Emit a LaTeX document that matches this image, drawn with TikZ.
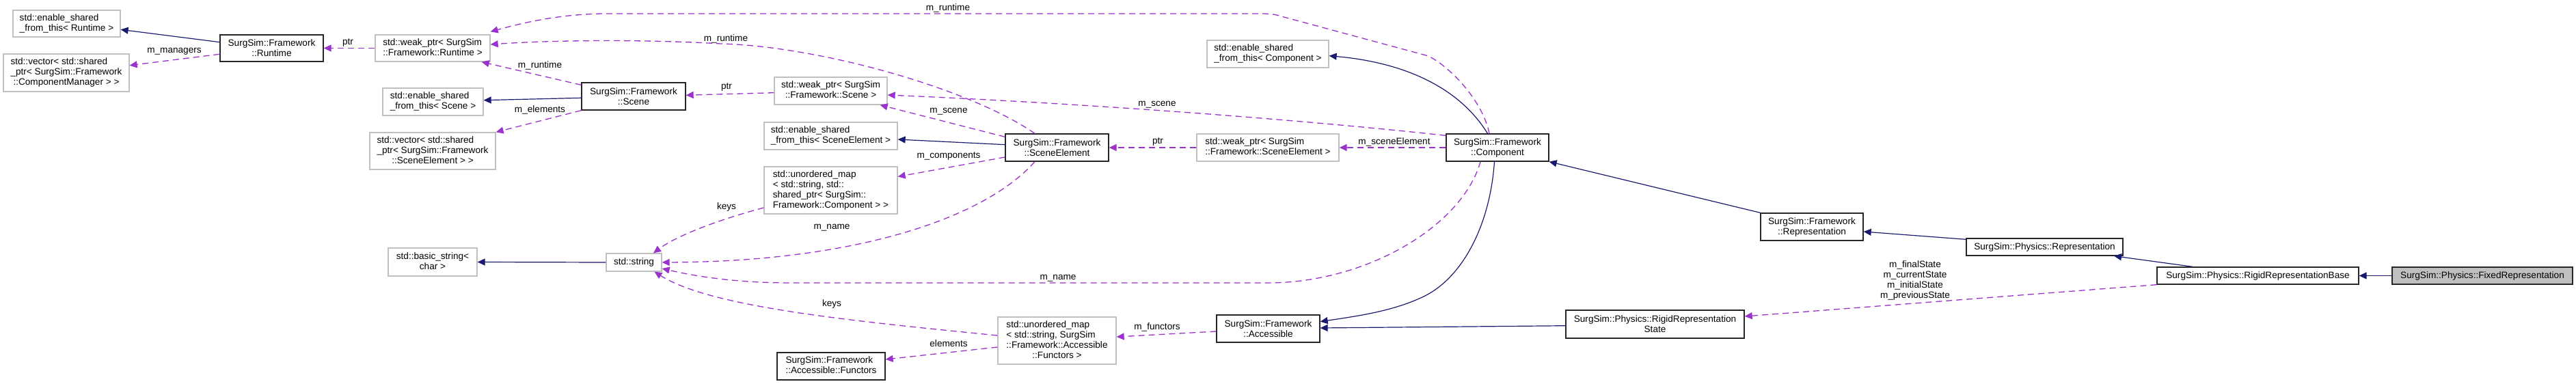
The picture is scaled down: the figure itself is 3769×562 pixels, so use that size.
\documentclass[tikz,border=0pt]{standalone}
\usepackage{fontspec}
\setmainfont{Liberation Sans}
\usetikzlibrary{arrows.meta}
\definecolor{navyc}{HTML}{191970}
\definecolor{orch}{HTML}{9A32CD}
\definecolor{gbord}{HTML}{BFBFBF}
\definecolor{fixfill}{HTML}{BFBFBF}
\newcommand\dxLast[1]{\multicolumn{1}{@{}c@{}}{#1}}
\begin{document}
\begin{tikzpicture}[x=1pt,y=-1pt,
  every node/.style={font=\fontsize{13.6}{15}\selectfont},
  box/.style={rectangle, draw, line width=1.3pt, inner sep=0pt, align=center},
  ext/.style={box, draw=gbord},
  cls/.style={box, draw=black!85},
  inh/.style={navyc, line width=1.2pt, -{Triangle[length=11pt,width=10pt]}},
  use/.style={orch, line width=1.3pt, dash pattern=on 9pt off 6pt, -{Triangle[length=11pt,width=10pt]}},
  lbl/.style={inner sep=0pt, align=center}]
\useasboundingbox (0,0) rectangle (3769,562);

% nodes
\node[ext, minimum width=157pt, minimum height=39pt] (ESR) at (97.5,34.5)
  {\begin{tabular}{@{}l@{}}std::enable\_shared\\\dxLast{\_from\_this< Runtime >}\end{tabular}};
\node[ext, minimum width=184pt, minimum height=55pt] (VCM) at (97,106.5)
  {\begin{tabular}{@{}l@{}}std::vector< std::shared\\\_ptr< SurgSim::Framework\\\dxLast{::ComponentManager > >}\end{tabular}};
\node[cls, minimum width=151pt, minimum height=39pt] (RT) at (397.5,70.5)
  {SurgSim::Framework\\::Runtime};
\node[ext, minimum width=168pt, minimum height=39pt] (WRT) at (633,70.5)
  {\begin{tabular}{@{}l@{}}std::weak\_ptr< SurgSim\\\dxLast{::Framework::Runtime >}\end{tabular}};
\node[ext, minimum width=147pt, minimum height=40pt] (ESS) at (633.5,149)
  {\begin{tabular}{@{}l@{}}std::enable\_shared\\\dxLast{\_from\_this< Scene >}\end{tabular}};
\node[ext, minimum width=184pt, minimum height=54pt] (VSE) at (633,221)
  {\begin{tabular}{@{}l@{}}std::vector< std::shared\\\_ptr< SurgSim::Framework\\\dxLast{::SceneElement > >}\end{tabular}};
\node[cls, minimum width=152pt, minimum height=40pt] (SC) at (927,141)
  {SurgSim::Framework\\::Scene};
\node[ext, minimum width=165pt, minimum height=40pt] (WSC) at (1215.5,133)
  {\begin{tabular}{@{}l@{}}std::weak\_ptr< SurgSim\\\dxLast{::Framework::Scene >}\end{tabular}};
\node[ext, minimum width=195pt, minimum height=40pt] (ESE) at (1215.5,199)
  {\begin{tabular}{@{}l@{}}std::enable\_shared\\\dxLast{\_from\_this< SceneElement >}\end{tabular}};
\node[ext, minimum width=195pt, minimum height=69pt] (UMC) at (1215.5,278.5)
  {\begin{tabular}{@{}l@{}}std::unordered\_map\\< std::string, std::\\shared\_ptr< SurgSim::\\\dxLast{Framework::Component > >}\end{tabular}};
\node[cls, minimum width=151pt, minimum height=40pt] (SE) at (1546.5,216)
  {SurgSim::Framework\\::SceneElement};
\node[ext, minimum width=208pt, minimum height=40pt] (WSE) at (1855,216)
  {\begin{tabular}{@{}l@{}}std::weak\_ptr< SurgSim\\\dxLast{::Framework::SceneElement >}\end{tabular}};
\node[ext, minimum width=178pt, minimum height=40pt] (ESC) at (1855,79)
  {\begin{tabular}{@{}l@{}}std::enable\_shared\\\dxLast{\_from\_this< Component >}\end{tabular}};
\node[cls, minimum width=150pt, minimum height=40pt] (COMP) at (2191,216)
  {SurgSim::Framework\\::Component};
\node[ext, minimum width=81pt, minimum height=26pt] (STR) at (927.5,384) {std::string};
\node[ext, minimum width=130pt, minimum height=41pt] (BS) at (633,383.5)
  {\begin{tabular}{@{}l@{}}std::basic\_string<\\\dxLast{char >}\end{tabular}};
\node[cls, minimum width=158pt, minimum height=40pt] (FUN) at (1216,536)
  {\begin{tabular}{@{}l@{}}SurgSim::Framework\\\dxLast{::Accessible::Functors}\end{tabular}};
\node[ext, minimum width=173pt, minimum height=69pt] (UMF) at (1546.5,498.5)
  {\begin{tabular}{@{}l@{}}std::unordered\_map\\< std::string, SurgSim\\::Framework::Accessible\\\dxLast{::Functors >}\end{tabular}};
\node[cls, minimum width=151pt, minimum height=40pt] (ACC) at (1855.5,481)
  {SurgSim::Framework\\::Accessible};
\node[cls, minimum width=261pt, minimum height=41pt] (RRS) at (2421.5,474.5)
  {SurgSim::Physics::RigidRepresentation\\State};
\node[cls, minimum width=150pt, minimum height=40pt] (FREP) at (2651,332)
  {SurgSim::Framework\\::Representation};
\node[cls, minimum width=229pt, minimum height=25pt] (PREP) at (2991.5,361.5)
  {SurgSim::Physics::Representation};
\node[cls, minimum width=295pt, minimum height=25pt] (RRB) at (3303.5,403.5)
  {SurgSim::Physics::RigidRepresentationBase};
\node[cls, fill=fixfill, minimum width=264pt, minimum height=25pt] (FIX) at (3632,403.5)
  {SurgSim::Physics::FixedRepresentation};

% inheritance edges
\draw[inh] ([yshift=8.8pt]RT.west) -- ([yshift=-8.8pt]ESR.east);
\draw[inh] ([yshift=-2.3pt]SC.west) -- ([yshift=2.3pt]ESS.east);
\draw[inh] ([yshift=4.3pt]SE.west) -- ([yshift=-5pt]ESE.east);
\draw[inh] ([xshift=-14.5pt]COMP.north) .. controls (2130,120) and (2040,90) .. ([yshift=-2.7pt]ESC.east);
\draw[inh] ([xshift=-4.5pt]COMP.south) .. controls (2180,330) and (2140,405) .. (2085,433)
  .. controls (2040,455) and (1990,462) .. ([yshift=10.3pt]ACC.east);
\draw[inh] ([yshift=-2.2pt]RRS.west) -- ([yshift=1pt]ACC.east);
\draw[inh] (FREP.north west) -- (COMP.south east);
\draw[inh] ([yshift=-2pt]PREP.north west) -- ([yshift=-7pt]FREP.east);
\draw[inh] ([xshift=-95.5pt]RRB.north) -- ([xshift=101.5pt]PREP.south);
\draw[inh] (FIX.west) -- (RRB.east);
\draw[inh] (STR.west) -- (BS.east);

% usage edges
\draw[use] ([yshift=-8.8pt]RT.west) -- ([yshift=10.8pt]VCM.east);
\draw[use] (WRT.west) -- (RT.east);
\draw[use] ([yshift=-4pt]SC.north west) -- ([xshift=-13pt]WRT.south east);
\draw[use] (SC.south west) -- (VSE.north east);
\draw[use] ([yshift=-2.7pt]WSC.west) -- ([yshift=1.7pt]SC.east);
\draw[use] ([xshift=-32.5pt]SE.north) .. controls (1420,130) and (1200,68) .. (1055,64)
  .. controls (950,58) and (820,58) .. ([yshift=5.5pt]WRT.east);
\draw[use] ([xshift=-12pt]COMP.north) .. controls (2170,150) and (2125,100) .. (2090,82)
  -- (1875,24) .. controls (1865,21) .. (1850,20) -- (882,20)
  .. controls (820,21) and (770,32) .. ([yshift=4pt]WRT.north east);
\draw[use] ([yshift=-5pt]SE.north west) -- ([xshift=-11pt]WSC.south east);
\draw[use] ([yshift=-3pt]COMP.north west) .. controls (1900,175) and (1600,152) .. ([yshift=-6pt]WSC.east);
\draw[use] ([yshift=-14pt]SE.west) -- ([yshift=20pt]UMC.east);
\draw[use] (WSE.west) -- (SE.east);
\draw[use] (COMP.west) -- (WSE.east);
\draw[use] ([yshift=-25.5pt]UMC.west) .. controls (1050,322) and (990,345) .. ([xshift=28.5pt]STR.north);
\draw[use] ([xshift=-32.5pt]SE.south) .. controls (1440,320) and (1250,383) .. (STR.east);
\draw[use] ([xshift=-25pt]COMP.south) .. controls (2140,330) and (2000,414) .. (1855,414)
  -- (1157,414) .. controls (1080,414) and (1020,405) .. ([yshift=-9pt]STR.east);
\draw[use] ([yshift=7.5pt]UMF.west) .. controls (1250,470) and (1040,450) .. ([xshift=30pt]STR.south);
\draw[use] ([yshift=-9.5pt]UMF.west) -- ([yshift=10pt]FUN.east);
\draw[use] ([yshift=-4pt]ACC.west) -- ([yshift=5.5pt]UMF.east);
\draw[use] (RRB.south west) -- ([yshift=11.5pt]RRS.east);

% labels
\node[lbl] (l1) at (255,75) {m\_managers};
\node[lbl] (l2) at (509,63) {ptr};
\node[lbl] (l3) at (790,96) {m\_runtime};
\node[lbl] (l4) at (790,161) {m\_elements};
\node[lbl] (l5) at (1063,128) {ptr};
\node[lbl] (l6) at (1062,57) {m\_runtime};
\node[lbl] (l7) at (1387,12) {m\_runtime};
\node[lbl] (l8) at (1388,163) {m\_scene};
\node[lbl] (l9) at (1693,153) {m\_scene};
\node[lbl] (l10) at (1388,229) {m\_components};
\node[lbl] (l11) at (1694,208) {ptr};
\node[lbl] (l12) at (2040,208) {m\_sceneElement};
\node[lbl] (l13) at (1063,303) {keys};
\node[lbl] (l14) at (1217,333) {m\_name};
\node[lbl] (l15) at (1548,407) {m\_name};
\node[lbl] (l16) at (1217,445) {keys};
\node[lbl] (l17) at (1388,503) {elements};
\node[lbl] (l18) at (1693,479) {m\_functors};
\node[lbl] (l19) at (2802,410) {m\_finalState\\m\_currentState\\m\_initialState\\m\_previousState};
\end{tikzpicture}
\end{document}
